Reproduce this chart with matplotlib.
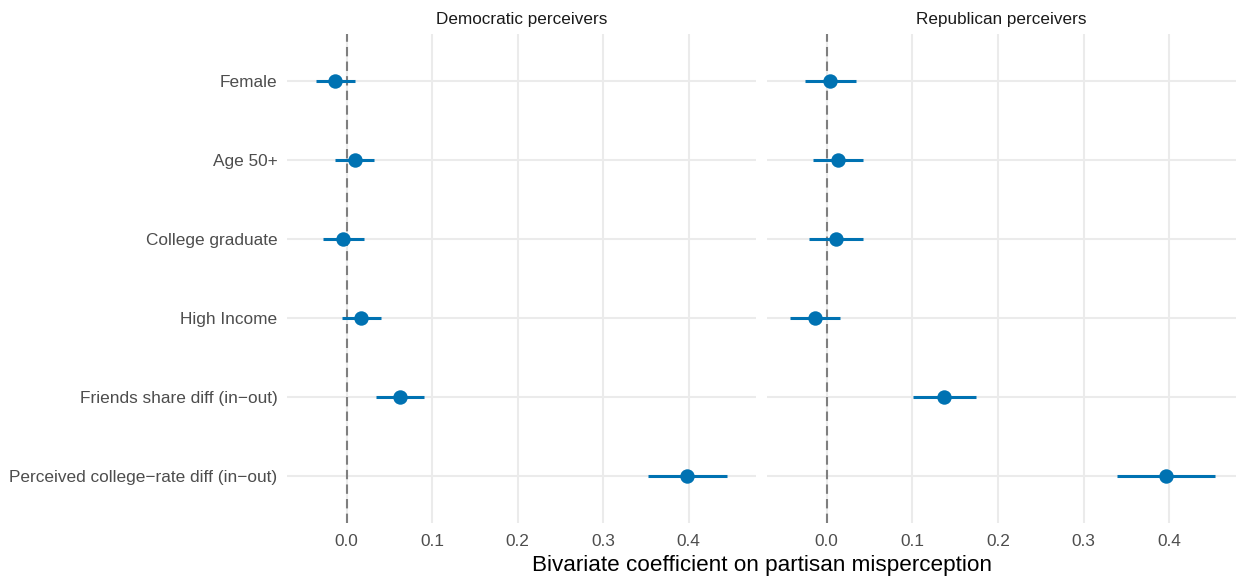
import matplotlib
matplotlib.use("Agg")
import matplotlib.pyplot as plt
import numpy as np

plt.rcParams['font.family'] = ['Liberation Sans', 'DejaVu Sans']

categories = ["Female", "Age 50+", "College graduate", "High Income",
              "Friends share diff (in\u2212out)", "Perceived college\u2212rate diff (in\u2212out)"]
panels = ["Democratic perceivers", "Republican perceivers"]

dem_est = [-0.013, 0.010, -0.004, 0.017, 0.063, 0.398]
dem_lo = [-0.036, -0.013, -0.028, -0.005, 0.034, 0.352]
dem_hi = [0.010, 0.032, 0.020, 0.040, 0.091, 0.445]

rep_est = [0.004, 0.013, 0.011, -0.014, 0.137, 0.396]
rep_lo = [-0.025, -0.016, -0.020, -0.043, 0.101, 0.339]
rep_hi = [0.034, 0.043, 0.042, 0.016, 0.174, 0.453]

xticks = [0.0, 0.1, 0.2, 0.3, 0.4]
xlabel = "Bivariate coefficient on partisan misperception"

W, H = 1236, 577
fig = plt.figure(figsize=(W / 100, H / 100), dpi=100)

blue = "#0072B2"
grid_c = "#EBEBEB"

def px_axes(x0, x1, y0, y1):
    return fig.add_axes([x0 / W, 1 - y1 / H, (x1 - x0) / W, (y1 - y0) / H])

axes = [px_axes(287, 755.5, 34, 523), px_axes(767, 1236, 34, 523)]
data = [(dem_est, dem_lo, dem_hi), (rep_est, rep_lo, rep_hi)]

ypos = np.arange(len(categories))[::-1] + 1  # Female at top

for i, (ax, (est, lo, hi)) in enumerate(zip(axes, data)):
    ax.set_xlim(-0.0696, 0.478)
    ax.set_ylim(0.4, 6.6)
    for s in ax.spines.values():
        s.set_visible(False)
    ax.set_xticks(xticks)
    ax.set_xticklabels([f"{t:.1f}" for t in xticks])
    ax.set_yticks(ypos)
    ax.set_yticklabels(categories if i == 0 else [])
    ax.tick_params(axis='both', length=0, labelsize=12.4, labelcolor="#4D4D4D")
    ax.tick_params(axis='x', pad=8)
    ax.tick_params(axis='y', pad=7)
    ax.grid(True, color=grid_c, linewidth=1.5, zorder=0)
    ax.set_axisbelow(True)
    ax.axvline(0, color="#7F7F7F", linestyle=(0, (4.5, 2.5)), linewidth=1.5, zorder=1)
    ax.hlines(ypos, lo, hi, color=blue, linewidth=2.2, zorder=2)
    ax.plot(est, ypos, 'o', color=blue, markersize=10.4, markeredgewidth=0, zorder=3)
    ax.set_title(panels[i], fontsize=12.3, color="#1A1A1A", pad=7)

fig.text(761.5 / W, 1 - 566 / H, xlabel, ha='center', va='center', fontsize=16.2, color='black')

fig.savefig("out.png", dpi=100, facecolor='white')
